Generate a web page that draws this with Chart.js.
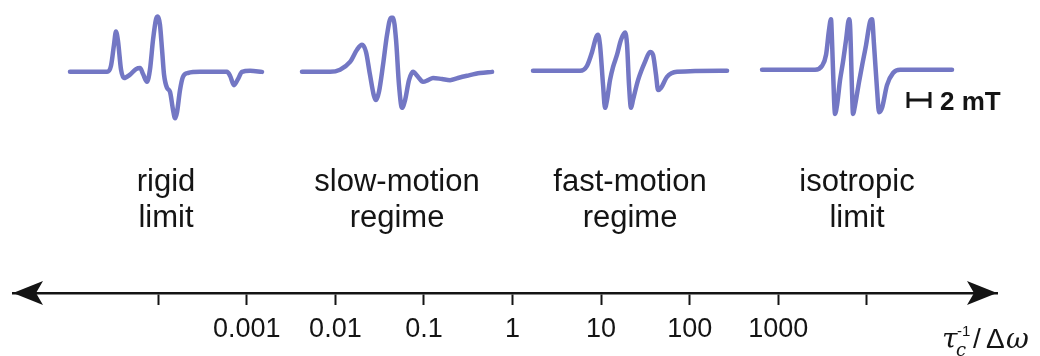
<!DOCTYPE html>
<html>
<head>
<meta charset="utf-8">
<script src="https://cdn.jsdelivr.net/npm/chart.js@4.4.1/dist/chart.umd.min.js"></script>
<style>
  html, body { margin: 0; padding: 0; background: #fff; }
  #wrap { width: 1040px; height: 356px; position: relative; }
</style>
</head>
<body>
<div id="wrap"><canvas id="chart"></canvas></div>
<script>
/* ===== EPR spectra vs. rotational correlation rate ===== */

// regime names (two lines each), left to right
const regimeLines1 = ["rigid", "slow-motion", "fast-motion", "isotropic"];
const regimeLines2 = ["limit", "regime", "regime", "limit"];

// log axis: tau_c^-1 / delta-omega
const tickValues = [1e-4, 1e-3, 1e-2, 1e-1, 1, 10, 100, 1000, 1e4];
const tickLabels = ["", "0.001", "0.01", "0.1", "1", "10", "100", "1000", ""];

// spectra: field (mT) and derivative signal (relative amplitude)
const rigidField = [5.18, 8.55, 8.91, 9.18, 9.36, 9.55, 9.82, 10.09, 10.64, 11.18, 11.55, 11.82, 12.18, 12.45, 12.73, 13.0, 13.18, 13.36, 13.55, 13.73, 14.0, 14.27, 14.55, 14.73, 14.91, 15.18, 15.45, 15.91, 17.0, 19.45, 19.73, 20.09, 20.45, 20.82, 21.55, 22.64];
const rigidSignal = [0, 0, 0.11, 0.49, 0.73, 0.55, 0.04, -0.11, -0.05, 0.05, 0.07, -0.04, -0.18, 0.04, 0.58, 0.95, 1.0, 0.85, 0.4, -0.05, -0.29, -0.36, -0.69, -0.84, -0.73, -0.33, -0.09, -0.02, 0, 0, -0.07, -0.24, -0.13, 0, 0.02, 0];

const slowField = [26.27, 28.82, 29.73, 30.64, 31.27, 31.73, 32.09, 32.45, 32.82, 33.0, 33.27, 33.64, 34.0, 34.36, 34.55, 34.82, 35.09, 35.36, 35.64, 36.0, 36.36, 36.82, 37.27, 37.73, 38.18, 39.0, 39.73, 40.45, 41.27, 42.45, 43.55];
const slowSignal = [0, 0, 0.04, 0.18, 0.4, 0.49, 0.36, -0.05, -0.44, -0.51, -0.36, 0.13, 0.67, 0.98, 0.98, 0.58, -0.24, -0.65, -0.51, -0.15, 0, -0.09, -0.18, -0.15, -0.11, -0.13, -0.15, -0.11, -0.07, -0.02, 0];

const fastField = [47.27, 51.55, 52.18, 52.64, 53.0, 53.18, 53.36, 53.64, 53.82, 54.0, 54.27, 54.55, 54.91, 55.27, 55.64, 55.82, 56.0, 56.18, 56.36, 56.82, 57.45, 57.91, 58.18, 58.45, 58.64, 58.91, 59.45, 60.36, 64.91];
const fastSignal = [0.02, 0.02, 0.11, 0.36, 0.62, 0.67, 0.49, -0.24, -0.65, -0.51, -0.15, 0.09, 0.31, 0.58, 0.71, 0.49, -0.24, -0.65, -0.51, -0.15, 0.18, 0.36, 0.31, -0.05, -0.33, -0.29, -0.09, 0, 0.02];

const isoField = [68.09, 72.91, 73.55, 73.91, 74.18, 74.36, 74.45, 74.64, 74.73, 74.91, 75.18, 75.45, 75.73, 76.0, 76.09, 76.27, 76.36, 76.55, 76.91, 77.18, 77.55, 77.91, 78.09, 78.27, 78.55, 78.73, 79.0, 79.45, 80.0, 80.64, 85.36];
const isoSignal = [0.04, 0.04, 0.11, 0.31, 0.76, 0.95, 0.58, -0.51, -0.76, -0.6, -0.15, 0.18, 0.58, 0.95, 0.85, -0.33, -0.76, -0.6, -0.18, 0.11, 0.49, 0.91, 0.95, 0.49, -0.33, -0.73, -0.65, -0.24, -0.02, 0.04, 0.04];

// scale bar length (mT)
const scaleBarMT = 2;

(function () {
  const LINE = "#7377c4";
  const INK = "#141414";
  const FONT = "'Liberation Sans', Arial, sans-serif";

  const spectra = [[rigidField, rigidSignal], [slowField, slowSignal], [fastField, fastSignal], [isoField, isoSignal]];
  const datasets = spectra.map(([f, s]) => ({
    data: f.map((x, i) => ({ x, y: s[i] })),
    xAxisID: "xs", yAxisID: "ys",
    borderColor: LINE, borderWidth: 4.5,
    pointRadius: 0, cubicInterpolationMode: "monotone",
    borderCapStyle: "round", borderJoinStyle: "round", fill: false
  }));

  /* ---------- Decorations: arrows, labels, scale bar, axis title ---------- */
  const decor = {
    id: "decor",
    afterDraw(chart) {
      const { ctx, chartArea: a } = chart;
      const y0 = a.bottom;
      ctx.save();
      ctx.fillStyle = INK;
      // arrowheads
      ctx.beginPath();
      ctx.moveTo(a.left, y0); ctx.lineTo(a.left + 30, y0 - 12); ctx.lineTo(a.left + 23, y0); ctx.lineTo(a.left + 30, y0 + 12);
      ctx.closePath(); ctx.fill();
      ctx.beginPath();
      ctx.moveTo(a.right, y0); ctx.lineTo(a.right - 30, y0 - 12); ctx.lineTo(a.right - 23, y0); ctx.lineTo(a.right - 30, y0 + 12);
      ctx.closePath(); ctx.fill();

      // regime labels, centred under each spectrum
      const xs = chart.scales.xs;
      ctx.font = "31px " + FONT;
      ctx.textAlign = "center";
      ctx.textBaseline = "alphabetic";
      spectra.forEach(([f], i) => {
        const cx = (xs.getPixelForValue(f[0]) + xs.getPixelForValue(f[f.length - 1])) / 2;
        ctx.fillText(regimeLines1[i], cx, 191);
        ctx.fillText(regimeLines2[i], cx, 227);
      });

      // scale bar
      const bx = 908, by = 100;
      const bw = xs.getPixelForValue(scaleBarMT) - xs.getPixelForValue(0);
      ctx.strokeStyle = INK; ctx.lineWidth = 3;
      ctx.beginPath();
      ctx.moveTo(bx, by); ctx.lineTo(bx + bw, by);
      ctx.moveTo(bx, by - 8); ctx.lineTo(bx, by + 8);
      ctx.moveTo(bx + bw, by - 8); ctx.lineTo(bx + bw, by + 8);
      ctx.stroke();
      ctx.textAlign = "left";
      ctx.font = "bold 26px " + FONT;
      ctx.fillText(scaleBarMT + " mT", 940, 110);

      // axis title: tau_c^-1 / delta omega
      ctx.font = "italic 28px 'DejaVu Serif', serif";
      ctx.fillText("τ", 942, 348);
      ctx.font = "italic 18px 'DejaVu Serif', serif";
      ctx.fillText("c", 956, 356);
      ctx.font = "15px " + FONT;
      ctx.fillText("-1", 957, 336);
      ctx.font = "28px " + FONT;
      ctx.fillText("/", 973, 348);
      ctx.fillText("Δ", 986, 348);
      ctx.font = "italic 28px 'DejaVu Serif', serif";
      ctx.fillText("ω", 1006, 348);
      ctx.restore();
    }
  };

  new Chart(document.getElementById("chart"), {
    type: "line",
    data: { datasets },
    options: {
      responsive: true, maintainAspectRatio: false, animation: false,
      layout: { padding: { left: 13, right: 43, top: 0, bottom: 0 } },
      plugins: { legend: { display: false }, tooltip: { enabled: false }, title: { display: false } },
      scales: {
        x: {
          type: "logarithmic", position: "bottom",
          min: Math.pow(10, -5.64), max: Math.pow(10, 5.47),
          afterBuildTicks: (s) => { s.ticks = tickValues.map(v => ({ value: v })); },
          afterFit: (s) => { s.height = 63; },
          ticks: {
            autoSkip: false, maxRotation: 0, minRotation: 0, padding: 8,
            color: INK, font: { family: FONT, size: 27 },
            callback: (v, i) => tickLabels[i]
          },
          grid: { drawOnChartArea: false, drawTicks: true, tickLength: 12, tickWidth: 2, tickColor: INK },
          border: { display: true, color: INK, width: 2.5 }
        },
        xs: { type: "linear", axis: "x", display: false, min: 0, max: 89.45 },
        ys: { type: "linear", axis: "y", display: false, min: -4.0, max: 1.3 }
      }
    },
    plugins: [decor]
  });
})();
</script>
</body>
</html>
